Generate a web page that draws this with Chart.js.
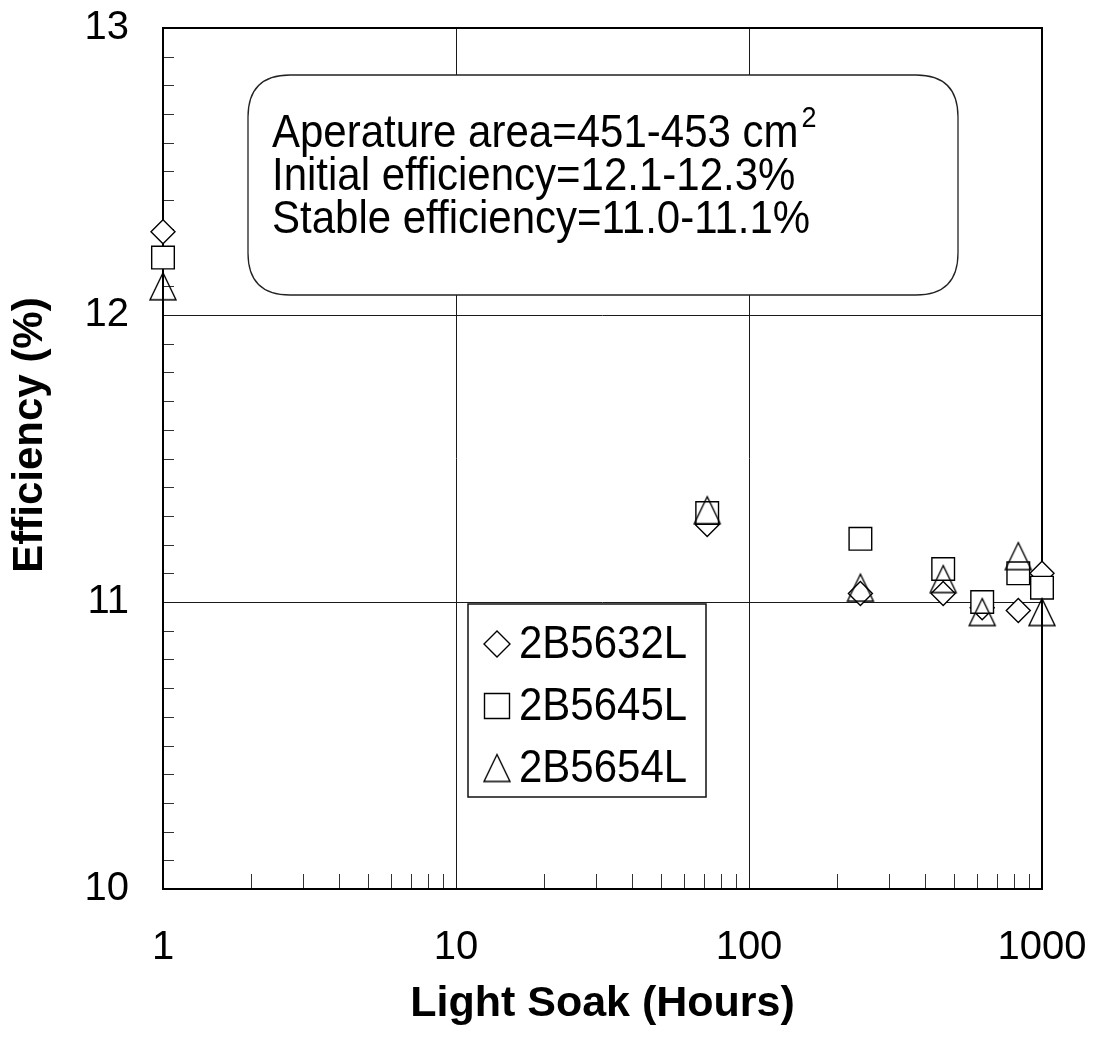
<!DOCTYPE html>
<html>
<head>
<meta charset="utf-8">
<title>Light Soak Efficiency</title>
<script src="https://cdn.jsdelivr.net/npm/chart.js@4.4.0/dist/chart.umd.min.js"></script>
<style>
  html, body { margin: 0; padding: 0; background: #ffffff; }
  #wrap { width: 1097px; height: 1047px; position: relative; }
</style>
</head>
<body>
<div id="wrap"><canvas id="chart" width="1097" height="1047"></canvas></div>
<script>
// Light-soak exposure (hours) at which each module was measured
const hours = [1, 72, 240, 460, 625, 830, 1000];

// Efficiency (%) of each module
const eff2B5632L = [12.29, 11.27, 11.03, 11.03, 10.98, 10.97, 11.10];
const eff2B5645L = [12.20, 11.31, 11.22, 11.115, 11.00, 11.10, 11.05];
const eff2B5654L = [12.10, 11.32, 11.05, 11.08, 10.965, 11.16, 10.965];

const seriesNames = ['2B5632L', '2B5645L', '2B5654L'];

// Axis tick labels and titles
const xTickValues = [1, 10, 100, 1000];
const yTickValues = [10, 11, 12, 13];
const xTitle = 'Light Soak (Hours)';
const yTitle = 'Efficiency (%)';

// Note box text
const noteLines = ['Aperature area=451-453 cm', 'Initial efficiency=12.1-12.3%', 'Stable efficiency=11.0-11.1%'];
const noteSuperscript = '2';

const FONT = "'Liberation Sans', Arial, Helvetica, sans-serif";
const INK = '#000000';

// Open triangle marker, centred on its bounding box
function makeTriangle(w, h, lw) {
  const c = document.createElement('canvas');
  c.width = w + 4; c.height = h + 4;
  const g = c.getContext('2d');
  g.strokeStyle = INK;
  g.lineWidth = lw;
  g.lineJoin = 'miter';
  g.beginPath();
  g.moveTo(c.width / 2, 2);
  g.lineTo(c.width - 2, c.height - 2);
  g.lineTo(2, c.height - 2);
  g.closePath();
  g.stroke();
  return c;
}
const triangleImg = makeTriangle(26, 27, 1.4);

function drawMarker(ctx, kind, x, y) {
  ctx.save();
  ctx.strokeStyle = INK;
  ctx.lineWidth = 1.4;
  ctx.fillStyle = '#ffffff';
  if (kind === 'diamond') {
    const r = 13;
    ctx.beginPath();
    ctx.moveTo(x - r, y); ctx.lineTo(x, y - r); ctx.lineTo(x + r, y); ctx.lineTo(x, y + r);
    ctx.closePath(); ctx.fill(); ctx.stroke();
  } else if (kind === 'square') {
    const s = 12.5;
    ctx.beginPath();
    ctx.rect(x - s, y - s, 2 * s, 2 * s);
    ctx.fill(); ctx.stroke();
  } else {
    ctx.drawImage(triangleImg, x - triangleImg.width / 2, y - triangleImg.height / 2);
  }
  ctx.restore();
}

// Text drawn slightly taller than the font's natural proportions
function tallText(ctx, text, x, y, sy) {
  ctx.save();
  ctx.translate(x, y);
  ctx.scale(1, sy);
  ctx.fillText(text, 0, 0);
  ctx.restore();
}

function toPoints(values) {
  return hours.map((h, i) => ({ x: h, y: values[i] }));
}

// Frame, major grid lines, inward minor ticks, note box, key and y title
const framePlugin = {
  id: 'frame',
  beforeDatasetsDraw(chart) {
    const { ctx, chartArea: a, scales: { x, y } } = chart;
    ctx.save();
    ctx.strokeStyle = '#1a1a1a';
    ctx.lineWidth = 1;
    // major grid lines
    xTickValues.slice(1, -1).forEach(v => {
      const px = Math.round(x.getPixelForValue(v)) + 0.5;
      ctx.beginPath(); ctx.moveTo(px, a.top); ctx.lineTo(px, a.bottom); ctx.stroke();
    });
    yTickValues.slice(1, -1).forEach(v => {
      const py = Math.round(y.getPixelForValue(v)) + 0.5;
      ctx.beginPath(); ctx.moveTo(a.left, py); ctx.lineTo(a.right, py); ctx.stroke();
    });
    // minor ticks on the log axis
    ctx.strokeStyle = '#333333';
    for (let d = 1; d < 1000; d *= 10) {
      for (let m = 2; m <= 9; m++) {
        const px = Math.round(x.getPixelForValue(d * m)) + 0.5;
        ctx.beginPath(); ctx.moveTo(px, a.bottom); ctx.lineTo(px, a.bottom - 15); ctx.stroke();
      }
    }
    // minor ticks on the efficiency axis
    for (let k = 1; k < 30; k++) {
      if (k % 10 === 0) continue;
      const py = Math.round(y.getPixelForValue(10 + k / 10)) + 0.5;
      ctx.beginPath(); ctx.moveTo(a.left, py); ctx.lineTo(a.left + 11, py); ctx.stroke();
    }
    // plot frame
    ctx.strokeStyle = INK;
    ctx.lineWidth = 2;
    ctx.strokeRect(a.left, a.top, a.right - a.left, a.bottom - a.top);

    // rounded note box
    const bx = a.left + 85, by = a.top + 47, bw = 710, bh = 220, r = 42;
    ctx.beginPath();
    ctx.moveTo(bx + r, by);
    ctx.lineTo(bx + bw - r, by);
    ctx.quadraticCurveTo(bx + bw, by, bx + bw, by + r);
    ctx.lineTo(bx + bw, by + bh - r);
    ctx.quadraticCurveTo(bx + bw, by + bh, bx + bw - r, by + bh);
    ctx.lineTo(bx + r, by + bh);
    ctx.quadraticCurveTo(bx, by + bh, bx, by + bh - r);
    ctx.lineTo(bx, by + r);
    ctx.quadraticCurveTo(bx, by, bx + r, by);
    ctx.closePath();
    ctx.fillStyle = '#ffffff';
    ctx.fill();
    ctx.lineWidth = 1.3;
    ctx.strokeStyle = '#222222';
    ctx.stroke();

    ctx.fillStyle = INK;
    ctx.textBaseline = 'alphabetic';
    ctx.textAlign = 'left';
    ctx.font = '42px ' + FONT;
    const tx = bx + 24;
    const baselines = [by + 72, by + 115, by + 158];
    noteLines.forEach((t, i) => tallText(ctx, t, tx, baselines[i], 1.1));
    const w0 = ctx.measureText(noteLines[0]).width;
    ctx.font = '27px ' + FONT;
    tallText(ctx, noteSuperscript, tx + w0 + 3, baselines[0] - 20, 1.1);
    ctx.restore();
  },
  afterDatasetsDraw(chart) {
    const { ctx, chartArea: a } = chart;
    ctx.save();
    // series key
    const lx = a.left + 305, ly = a.top + 576, lw = 238, lh = 193;
    ctx.fillStyle = '#ffffff';
    ctx.fillRect(lx, ly, lw, lh);
    ctx.strokeStyle = '#111111';
    ctx.lineWidth = 1.5;
    ctx.strokeRect(lx, ly, lw, lh);
    const kinds = ['diamond', 'square', 'triangle'];
    ctx.font = '42px ' + FONT;
    ctx.textBaseline = 'alphabetic';
    ctx.textAlign = 'left';
    seriesNames.forEach((name, i) => {
      const cy = ly + 38 + i * 62;
      drawMarker(ctx, kinds[i], lx + 29, cy + 2);
      ctx.fillStyle = INK;
      tallText(ctx, name, lx + 51, cy + 16, 1.08);
    });

    // rotated y-axis title
    ctx.font = 'bold 42px ' + FONT;
    ctx.fillStyle = INK;
    ctx.textAlign = 'center';
    ctx.textBaseline = 'middle';
    ctx.translate(30, 435);
    ctx.rotate(-Math.PI / 2);
    ctx.fillText(yTitle, 0, 0);
    ctx.restore();
  }
};

const chart = new Chart(document.getElementById('chart'), {
  type: 'scatter',
  data: {
    datasets: [
      {
        label: seriesNames[0],
        data: toPoints(eff2B5632L),
        pointStyle: 'rectRot',
        pointRadius: 12,
        borderWidth: 1.4,
        borderColor: INK,
        backgroundColor: '#ffffff',
        clip: false,
        order: 3
      },
      {
        label: seriesNames[1],
        data: toPoints(eff2B5645L),
        pointStyle: 'rect',
        pointRadius: 16,
        borderWidth: 1.4,
        borderColor: INK,
        backgroundColor: '#ffffff',
        clip: false,
        order: 2
      },
      {
        label: seriesNames[2],
        data: toPoints(eff2B5654L),
        pointStyle: triangleImg,
        pointRadius: 14,
        borderColor: INK,
        backgroundColor: 'rgba(0,0,0,0)',
        clip: false,
        order: 1
      }
    ]
  },
  options: {
    responsive: false,
    animation: false,
    events: [],
    layout: { padding: { top: 28, right: 55, bottom: 0, left: 0 } },
    plugins: {
      legend: { display: false },
      tooltip: { enabled: false }
    },
    scales: {
      x: {
        type: 'logarithmic',
        min: 1,
        max: 1000,
        afterBuildTicks(scale) { scale.ticks = xTickValues.map(v => ({ value: v })); },
        afterFit(scale) { scale.height = 158; scale.paddingLeft = 0; scale.paddingRight = 0; },
        grid: { display: false },
        border: { display: false },
        ticks: {
          autoSkip: false,
          maxRotation: 0,
          padding: 27,
          color: INK,
          font: { family: FONT, size: 40, lineHeight: 1.2 },
          callback: v => String(v)
        },
        title: {
          display: true,
          text: xTitle,
          color: INK,
          font: { family: FONT, size: 43, weight: 'bold', lineHeight: 1.2 },
          padding: { top: 0, bottom: 17 }
        }
      },
      y: {
        type: 'linear',
        min: 10,
        max: 13,
        afterBuildTicks(scale) { scale.ticks = yTickValues.map(v => ({ value: v })); },
        afterFit(scale) { scale.width = 163; scale.paddingTop = 0; scale.paddingBottom = 0; },
        grid: { display: false },
        border: { display: false },
        ticks: {
          padding: 26,
          color: INK,
          font: { family: FONT, size: 40, lineHeight: 1.2 },
          callback: v => String(v)
        },
        title: { display: false }
      }
    }
  },
  plugins: [framePlugin]
});
</script>
</body>
</html>
